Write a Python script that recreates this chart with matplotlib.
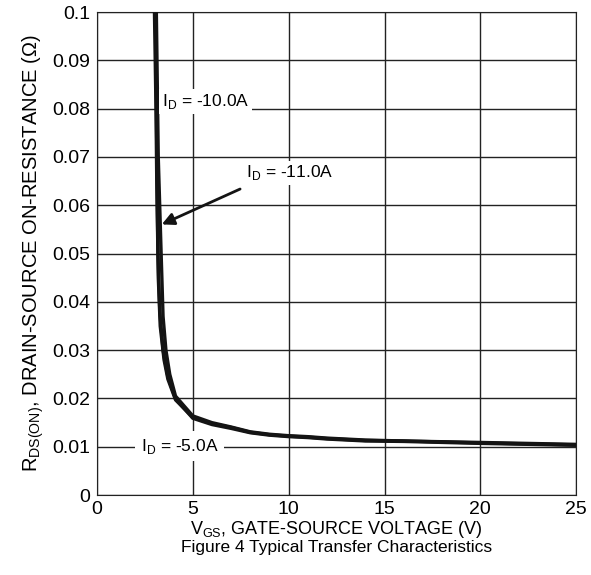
import matplotlib.pyplot as plt

plt.rcParams['font.family'] = ['Liberation Sans', 'DejaVu Sans']

# Vgs (V) vs Rds(on) (ohm) for three drain currents
vgs_a = [3.05, 3.1, 3.15, 3.2, 3.3, 3.5, 3.7, 4.1, 5, 6, 7, 8, 9, 10, 11, 12, 14, 16, 20, 25]
rds_a = [0.1, 0.08, 0.06, 0.045, 0.035, 0.028, 0.024, 0.0197, 0.0161, 0.0148, 0.014,
         0.013, 0.0125, 0.0122, 0.012, 0.0117, 0.0113, 0.0112, 0.0108, 0.0104]

vgs_b = [3.1, 3.2, 3.35, 3.45, 3.6, 3.8, 4.1, 5, 6, 7, 8, 9, 10, 11, 12, 14, 16, 20, 25]
rds_b = [0.1, 0.07, 0.05, 0.037, 0.03, 0.025, 0.0205, 0.0164, 0.015, 0.0141,
         0.0131, 0.0126, 0.0123, 0.0121, 0.0118, 0.0114, 0.0112, 0.0109, 0.0105]

vgs_c = [3.0, 3.08, 3.12, 3.18, 3.28, 3.45, 3.7, 4.1, 5, 6, 7, 8, 9, 10, 11, 12, 14, 16, 20, 25]
rds_c = [0.1, 0.08, 0.065, 0.05, 0.038, 0.03, 0.0245, 0.0199, 0.0159, 0.0146, 0.0138,
         0.0129, 0.0124, 0.0121, 0.0119, 0.0116, 0.0112, 0.0111, 0.0107, 0.0103]

fig = plt.figure(figsize=(5.91, 5.75), dpi=100)
ax = fig.add_axes([0.164, 0.139, 0.811, 0.840])

ax.plot(vgs_a, rds_a, color='#141414', lw=2.4, zorder=3)
ax.plot(vgs_b, rds_b, color='#141414', lw=2.4, zorder=3)
ax.plot(vgs_c, rds_c, color='#141414', lw=2.4, zorder=3)

ax.set_xlim(0, 25)
ax.set_ylim(0, 0.1)
ax.set_xticks([0, 5, 10, 15, 20, 25])
ax.set_yticks([0, 0.01, 0.02, 0.03, 0.04, 0.05, 0.06, 0.07, 0.08, 0.09, 0.1])
ax.set_yticklabels(['0', '0.01', '0.02', '0.03', '0.04', '0.05', '0.06', '0.07', '0.08', '0.09', '0.1'])
ax.grid(True, color='#222222', lw=1.0)
ax.tick_params(length=0, labelsize=14, pad=5)
ax.tick_params(axis='x', pad=4)
for s in ax.spines.values():
    s.set_color('#222222')

box = dict(facecolor='white', edgecolor='none', pad=2)
ax.text(3.4, 0.0815, r'I$_\mathregular{D}$ = -10.0A', fontsize=12.5, va='center', bbox=box, zorder=4)
ax.text(7.8, 0.0667, r'I$_\mathregular{D}$ = -11.0A', fontsize=12.5, va='center', bbox=box, zorder=4)
ax.text(2.3, 0.0101, r'I$_\mathregular{D}$ = -5.0A', fontsize=12.5, va='center',
        bbox=dict(facecolor='white', edgecolor='none', pad=4), zorder=4)
ax.annotate('', xy=(3.25, 0.0558), xytext=(7.6, 0.0636),
            arrowprops=dict(arrowstyle='-|>', color='#141414', lw=2, mutation_scale=18), zorder=5)

ax.set_xlabel('V$_\\mathregular{GS}$, GATE-SOURCE VOLTAGE (V)', fontsize=13, labelpad=1)
fig.text(0.57, 0.047, 'Figure 4 Typical Transfer Characteristics', fontsize=12.5, ha='center', va='center')
ax.set_ylabel('R$_\\mathregular{DS(ON)}$, DRAIN-SOURCE ON-RESISTANCE (Ω)', fontsize=14.5, labelpad=4)

fig.savefig('out.png', dpi=100)
